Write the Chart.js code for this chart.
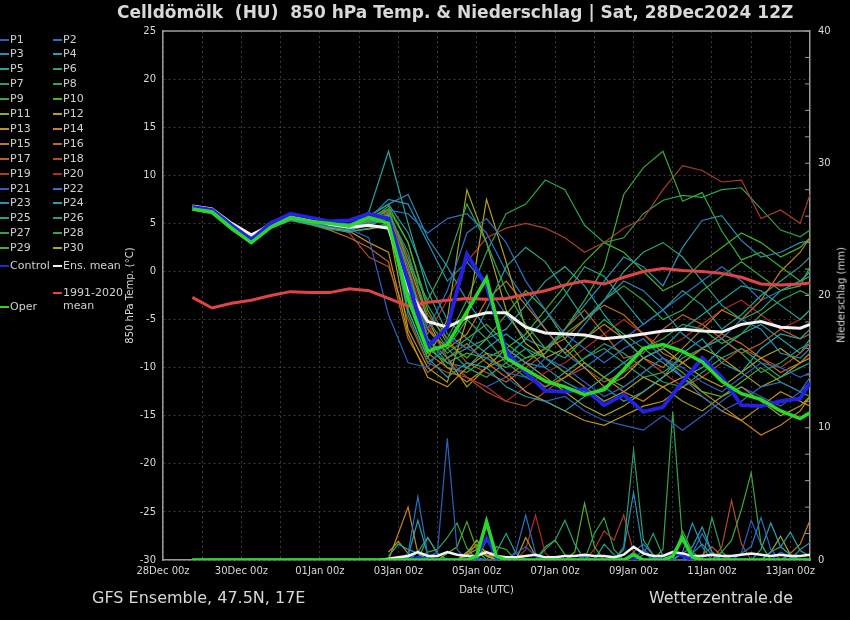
<!DOCTYPE html>
<html>
<head>
<meta charset="utf-8">
<script src="https://cdn.jsdelivr.net/npm/chart.js@4.4.1/dist/chart.umd.min.js"></script>
<style>
body{margin:0;background:#000;}
#wrap{position:relative;width:850px;height:620px;background:#000;overflow:hidden;font-family:"DejaVu Sans",sans-serif;color:#d8d8d8;}
#chart{position:absolute;left:0;top:0;}
#title{position:absolute;left:117px;top:2px;font-size:17px;font-weight:bold;white-space:pre;}
#legend{position:absolute;left:0;top:0;}
.key{position:absolute;font-size:11px;line-height:13px;white-space:pre;display:flex;align-items:flex-start;color:#d0d0d0;}
.mark{display:inline-block;width:9px;height:2px;margin-top:6px;margin-right:1px;}
#rtitle{position:absolute;left:841px;top:295px;font-size:10px;white-space:pre;transform:translate(-50%,-50%) rotate(-90deg);}
.foot{position:absolute;top:588px;font-size:16px;}
</style>
</head>
<body>
<div id="wrap">
  <canvas id="chart" width="850" height="620"></canvas>
  <div id="title">Celldömölk  (HU)  850 hPa Temp. &amp; Niederschlag | Sat, 28Dec2024 12Z</div>
  <div id="legend"></div>
  <div id="rtitle">Niederschlag (mm)</div>
  <div class="foot" style="left:92px">GFS Ensemble, 47.5N, 17E</div>
  <div class="foot" style="right:57px">Wetterzentrale.de</div>
</div>
<script>
// hours after 28Dec 00z
const tHours = [18,30,42,54,66,78,90,102,114,126,138,150,162,174,186,198,210,222,234,246,258,270,282,294,306,318,330,342,354,366,378,390,396];
const rainHours = [138,144,150,156,162,168,174,180,186,192,198,204,210,216,222,228,234,240,246,252,258,264,270,276,282,288,294,300,306,312,318,324,330,336,342,348,354,360,366,372,378,384,390,396];
const rainHoursLong = [18,24,30,36,42,48,54,60,66,72,78,84,90,96,102,108,114,120,126,132].concat(rainHours);

const xTickHours = [0,24,48,72,96,120,144,168,192,216,240,264,288,312,336,360,384];
const xTickLabels = ["28Dec 00z","30Dec 00z","01Jan 00z","03Jan 00z","05Jan 00z","07Jan 00z","09Jan 00z","11Jan 00z","13Jan 00z"];
const rainTicks = [0,2,4,6,8,10,12,14,16,18,20,22,24,26,28,30,32,34,36,38,40];

// 850 hPa temperature, members
const p1  = [6.5,6.2,4.6,3.3,4.8,5.6,5.2,4.7,4.4,3.5,-4.5, -9.5,-10,-7,-8,-9,-10.5,-11,-9,-10,-11.5, -13,-12,-10.5,-9,-10,-11.5,-12.5,-11,-9.5,-10, -11,-10.5];
const p2  = [6.6,6.3,4.8,3.5,5.0,5.7,5.4,4.9,4.7,5.0,5.5, -1,-6,-2,4,5.5,3,-1,-4,-6.5,-8, -9.5,-8,-7,-9,-11,-13,-14.5,-13.5,-12,-11.5, -12.5,-11];
const p3  = [6.7,6.4,5.0,3.7,5.2,5.9,5.6,5.1,4.9,5.8,7.0, 8,3.5,0.5,-3,-6,-8,-9.5,-10,-8,-5.5, -3,-1,-2,-4,-6.5,-8,-7,-5,-6,-8.5, -9,-8];
const p4  = [6.5,6.1,4.4,2.9,4.5,5.3,4.9,4.4,4.1,4.5,5.0, -4,-9,-11,-9.5,-10,-12,-13,-13.5,-14.5,-13, -12,-13.5,-12.5,-11,-8.5,-7,-9.5,-10.5,-8,-6.5, -7,-6];
const p5  = [6.6,6.2,4.6,3.3,4.8,5.6,5.4,4.8,4.6,6.2,12.5, 5,-2,-6.5,-8,-7,-6,-3.5,-1,0.5,-1.5, -4.5,-7,-9,-8,-6,-4.5,-3,-1.5,-2,-3.5, -5,-4];
const p6  = [6.4,6.0,4.3,3.0,4.6,5.4,5.0,4.6,4.3,4.8,5.5, 0.5,-7,-9,-8,-4,0.5,2.5,1,-2,-5, -3,0,2,3,1.5,-1,-3.5,-5,-4,-2, -1,0];
const p7  = [6.7,6.4,4.9,3.6,5.1,5.8,5.5,5.0,4.7,5.3,6.0, 2,-5,-8,-10,-11,-9.5,-8,-9,-10.5,-9, -7.5,-8.5,-10,-11.5,-12,-10.5,-9,-8,-9.5,-11, -10,-9.5];
const p8  = [6.5,6.1,4.5,3.2,4.7,5.5,5.1,4.7,4.4,5.0,6.5, 1,-3,1,7,3,-2,-5.5,-8,-9,-7, -5,-6.5,-8,-7,-5.5,-6,-7.5,-6.5,-4.5,-3, -2,-2.5];
const p9  = [6.6,6.2,4.7,3.4,4.9,5.7,5.3,4.8,4.5,5.0,5.5, -2,-8,-9.5,-8.5,-9,-10,-9,-8.5,-6,-3, 0.5,8,10.8,12.5,7.3,8.2,4.2,1.2,2,0.5, -1,-0.5];
const p10 = [6.5,6.1,4.5,3.1,4.7,5.5,5.2,4.7,4.5,5.2,6.8, 3,-4,-7.5,-9,-7,-4.5,-2,-4,-7,-9.5, -11,-12,-10.5,-9,-10.5,-12.5,-13,-11.5,-10,-11.5, -12.5,-13];
const p11 = [6.6,6.2,4.6,3.2,4.8,5.6,5.3,4.8,4.5,5.0,5.8, -4,-9,-5,8.5,3,-4,-7.5,-9,-10.5,-12, -13.5,-12.5,-11,-12,-13.5,-14.5,-13,-12,-13.5,-15, -14,-13];
const p12 = [6.5,6.1,4.4,3.0,4.6,5.4,5.0,4.5,4.2,4.4,4.8, -6,-10,-11.5,-5,7.5,1,-6,-9,-8,-10, -12,-11,-9,-8,-9.5,-11,-12,-10.5,-9,-8, -9.5,-9];
const p13 = [6.7,6.3,4.8,3.5,5.0,5.8,5.5,4.9,4.2,3.0,2.0, -6.5,-11,-12,-10,-8.5,-10.5,-12.5,-13.5,-14.5,-15.5, -16,-15,-14,-13.5,-12,-13,-14.5,-15.5,-14,-12.5, -13.5,-14];
const p14 = [6.5,6.1,4.5,3.1,4.7,5.5,5.1,4.6,4.3,4.8,5.5, -2.5,-8.5,-10,-11.5,-10,-9,-10.5,-12,-11,-9.5, -11,-12.5,-13.5,-12,-11,-12.5,-14,-15.5,-17,-16, -14.5,-13];
const p15 = [6.6,6.2,4.6,3.3,4.9,5.6,5.2,4.8,4.6,5.3,6.0, 0,-6,-8,-6.5,-3,-1,-3.5,-6,-8.5,-7, -5.5,-7,-9,-10,-8,-6,-4,-5,-3,0, 2,3.5];
const p16 = [6.4,6.0,4.3,2.9,4.5,5.3,4.9,4.3,3.5,2.5,1.0, -7,-10.5,-9,-7.5,-9.5,-11,-9.5,-8,-7,-5, -3.5,-4.5,-6.5,-8.5,-9.5,-8,-6.5,-7.5,-9,-10.5, -9.5,-8.5];
const p17 = [6.7,6.4,4.9,3.6,5.1,5.9,5.6,5.1,4.9,5.5,6.2, 1.5,-4.5,-7,-9.5,-10.5,-11.5,-10,-8.5,-6,-4, -6.5,-9,-8.5,-6,-4.5,-5.5,-7,-8.5,-7.5,-6, -7,-6.5];
const p18 = [6.6,6.2,4.6,3.2,4.8,5.6,5.3,4.8,4.0,1.5,0.5, -5,-9.5,-10.5,-11,-12.5,-13.5,-14,-12.5,-11,-10, -11.5,-10.5,-9,-10.5,-12,-11,-9.5,-8,-9,-10, -8.5,-7.5];
const p19 = [6.5,6.1,4.5,3.1,4.7,5.5,5.1,4.7,4.5,5.1,5.8, -1,-6.5,-3,1,3.5,4.5,5,4.5,3.5,2, 3,4.5,5.5,8.5,11,10.5,9.3,9.5,5.5,6.4, 5,8];
const p20 = [6.6,6.3,4.7,3.4,4.9,5.7,5.4,4.9,4.7,5.4,6.3, 0.5,-5.5,-9,-11,-12,-13.5,-12,-10.5,-9.5,-8, -6.5,-5,-6.5,-8,-7,-5.5,-4,-3,-4.5,-6, -5,-4];
const p21 = [6.5,6.1,4.5,3.2,4.7,5.5,5.2,4.7,4.4,4.9,5.5, -3,-8,-9.5,-11,-12,-11,-12.5,-13.5,-13,-14.5, -15.5,-16,-16.5,-15,-16.5,-15,-13.5,-12,-13,-14, -12.5,-11.5];
const p22 = [6.7,6.3,4.8,3.5,5.0,5.8,5.4,4.9,4.6,5.3,6.4, 6,4,5.5,6,4,0,-3,-6,-8.5,-10, -8.5,-7,-5.5,-4,-2.5,-1,0.5,-1,-3,-2, -1,0];
const p23 = [6.6,6.2,4.6,3.3,4.9,5.6,5.3,4.8,4.6,5.5,7.5, 7,3,-1,1,-1.5,-4.5,-7,-8,-6,-3.5, -1,1.5,0.5,-1.5,2.5,5.3,5.8,3.2,1.5,2, 3,3.2];
const p24 = [6.5,6.1,4.4,3.0,4.6,5.4,5.0,4.6,4.4,5.0,6.0, -1.5,-7,-9.5,-10,-8,-6.5,-8,-10,-11.5,-12.5, -11,-9.5,-8,-9.5,-11,-10,-8,-6.5,-5.5,-7, -8.5,-7];
const p25 = [6.6,6.3,4.8,3.5,5.0,5.8,5.5,5.0,4.8,5.7,7.0, 4,-1,-5,-7,-8.5,-9,-7,-5,-2.5,0.5, -0.5,-3,-5.5,-4,-2,-3.5,-6,-4.5,-2.5,-1, 0.5,1.5];
const p26 = [6.5,6.1,4.5,3.2,4.7,5.5,5.1,4.6,4.4,5.0,5.5, -4.5,-9.5,-8,-5,-7,-9.5,-11,-12,-10.5,-9, -8,-9.5,-11,-10.5,-9,-8,-7,-8.5,-10.5,-9.5, -8,-7.5];
const p27 = [6.7,6.4,4.9,3.6,5.1,5.9,5.6,5.1,4.9,5.6,6.5, 3,-3.5,-7,-3,2,6,7,9.5,8.5,4.8, 3,3.5,6,7.4,7.9,7.7,8.5,8.7,6.5,4.3, 3.6,4.3];
const p28 = [6.6,6.2,4.6,3.3,4.8,5.6,5.2,4.7,4.5,5.1,5.9, -0.5,-6,-8.5,-7,-5.5,-7.5,-9,-8,-6.5,-5, -3,-1.5,-3,-5,-4,-2,-0.5,1,-0.5,-2, -1.5,0.5];
const p29 = [6.5,6.1,4.4,3.0,4.6,5.4,5.0,4.5,4.3,4.9,5.6, -2,-7.5,-10,-10.5,-9,-8,-6.5,-4,-1.5,1, 3,2,0,-2,-1,1,2.5,4,3,1.5, 2.5,3.5];
const p30 = [6.6,6.2,4.7,3.4,4.9,5.7,5.4,4.9,4.6,5.2,6.0, 1,-5,-9,-12,-10,-8,-9.5,-11,-12.5,-14, -15,-14,-12.5,-11,-9.5,-8,-9,-10.5,-12,-11, -9.5,-8.5];

const control  = [6.7,6.4,4.8,3.3,5.0,6.0,5.6,5.2,5.3,6.0,5.5, -1,-7.8,-5.8,1.8,-1.5,-8.3,-10.5,-12.4,-12.5,-12.2, -13.9,-12.8,-14.6,-14.1,-11.5,-9,-11,-13.9,-14,-13.5, -13.2,-11.6];
const oper     = [6.5,6.2,4.5,3.0,4.6,5.6,5.2,5.0,4.7,5.6,5.0, -2.8,-8.3,-7.6,-4.2,-0.7,-9,-10.2,-11.4,-12,-12.8, -12.3,-10.2,-8,-7.6,-8.3,-9.4,-11.4,-12.7,-13.3,-14.5, -15.3,-14.7];
const ensMean  = [6.8,6.5,5.0,3.8,4.8,5.6,5.5,4.9,4.6,4.8,4.5, -1.8,-5.2,-5.8,-4.8,-4.3,-4.3,-5.8,-6.4,-6.5,-6.6, -7,-6.8,-6.5,-6.2,-6,-6.2,-6.3,-5.5,-5.2,-5.8, -5.9,-5.5];
const climMean = [-2.7,-3.8,-3.3,-3.0,-2.5,-2.1,-2.2,-2.2,-1.8,-2.0,-2.8, -3.6,-3.2,-3,-2.8,-2.9,-2.8,-2.4,-2,-1.4,-1, -1.3,-0.6,0,0.3,0.1,0,-0.2,-0.6,-1.3,-1.4, -1.3,-1.2];

// precipitation (mm / 6h), members from 03Jan 18z
const rr1  = [0,0,0,0,0.2,0.6,9.2,0.8,0,0,0, 0,0,0.5,1.0,0.3,0,0,0,0,0,0, 0,0,0,0,0.8,0.2,0,0,0,0,0, 0,0,0,0,0,0,0,0.6,0.2,0,0];
const rr2  = [0,0,0.5,4.8,0.4,0,0,0,0,0,0, 0,0,0.6,3.4,0.5,0,0,0,0,0,0, 0,0,0,0.4,0,0,0,0,0,0,0, 0,0,0,0.5,1.0,3.2,0.8,0,0,0,0];
const rr3  = [0,0,0,0.6,0.3,0,0,0,0,0.2,0, 0,0,0,0,0,0,0,0,0,0.3,0, 0,0,0.8,5.1,0.6,0,0,0,0,0.5,1.2, 0.4,0,0,0,0,0,0,0,0.4,0,0];
const rr4  = [0,0,0.3,3.0,0.4,0,0,0,0,0,0, 0,0,0,0,0,0,0,0,0,0,0, 0,0,0,0,0,0,0,0,0.5,1.0,2.5, 0.6,0,0,0,0,0.8,2.8,1.0,0.4,0,0];
const rr5  = [0.3,1.2,0.8,0.5,0,0,0,0,0,0,0, 0,0,0,0,0,0,0,0,0,0,0, 0,0,0,0,0,0,0,0,0,0,0, 0,0,0,0,0,0,0.6,1.0,2.1,0.7,0.3];
const rr6  = [0,0,0,0,0,0,0,0,0,0,0, 0,0,0,0,0,0.8,1.5,3.0,1.2,0,0, 0,0,0,0,0,0,0,0,0,0,0, 0,0,0,0,0,0,0,0,0,0,0];
const rr7  = [0,0,0,0,0,0,0,0,0,0,0, 0,0,0,0,0,0,0,0,0,0,0, 0,0,1.0,8.3,1.5,0.4,0,0,0,0,0, 0,0,0,0,0,0,0,0,0,0,0];
const rr8  = [0,0,0,0,0,0,0,0,0,0,0, 0,0,0,0,0,0,0,0,0,0,0, 0,0,0,0,0,0,0.8,11.2,1.4,0.3,0, 0,0,0,0,0,0,0,0,0,0,0];
const rr9  = [0,0,0,0,0,0,0,0,0,0,0, 0,0,0,0,0,0,0,0,0,0,0, 0,0,0,0,0,0,0,0,0,0,0, 0,0.6,1.5,3.8,6.6,1.2,0,0,0,0,0];
const rr10 = [0,0,0,0,0,0,0.5,1.0,2.9,0.8,0, 0,0,0,0,0,0,0,0,0.6,4.3,1.0, 0,0,0,0,0,0,0,0,0,0,0, 0,0,0,0,0,0,0,0,0,0,0];
const rr11 = [0,0,0,0,0,0,0,0,0.4,0.8,0.3, 0,0,0,0,0,0,0,0,0,0,0, 0,0,0,0,0,0,0,0,0,0,0, 0,0,0,0,0,0,0,0,0,0,0];
const rr12 = [0,0,0,0,0,0,0,0,0.5,1.5,0.4, 0,0,0,1.7,0.3,0,0,0,0,0,0, 0,0,0,0,0,0,0,0,0,0,0, 0,0,0,0,0,0,0.6,1.8,0.4,0,0];
const rr13 = [0.6,1.4,0.5,0,0,0,0,0,0,0,0, 0,0,0,0,0,0,0,0,0,0,0, 0,0,0,0,0,0,0,0,0,0,0, 0,0,0,0,0,0,0,0,0,0,0];
const rr14 = [0,2.0,4.0,0.5,0,0,0,0,0,0,0, 0,0,0,0,0,0,0,0,0,0,0, 0,0,0,0,0,0,0,0,0,0,0, 0,0,0,0,0,0,0,0,0,0,0];
const rr15 = [0,0,0,0,0,0,0,0,0,0,0, 0,0,0,0,0,0,0,0,0,0,0, 0,0,0,0,0,0,0,0,0,0,0, 0,0,0,0,0,0,0,0,0.5,1.2,3.0];
const rr16 = [0,0,0,0,0,0,0,0,0.3,1.2,0.6, 0,0,0,0,0,0,0,0,0,0,0, 0,0,0,0,0,0,0,0,0,0,0, 0,0,0,0,0,0,0,0,0,0,0];
const rr17 = [0,0,0,0,0,0,0,0,0,0,0, 0,0,0,0,0,0,0,0,0,0,0, 0,0,0,0,0,0,0,0,0,0,0.4, 1.0,0.3,0,0,0,0,0,0,0,0,0];
const rr18 = [0,0,0,0,0,0,0,0,0,0,0, 0,0,0,0,0,0,0,0,0,0,0, 0,0,0,0,0,0,0,0,0,0,0, 0,1.0,4.5,1.2,0,0,0,0,0,0,0];
const rr19 = [0,0,0,0,0,0,0,0,0,0,0, 0,0,0,0,0,0,0,0,0,0,0.8, 2.2,1.5,3.4,0.6,0,0,0,0,0,0,0, 0,0,0,0,0,0,0,0,0,0,0];
const rr20 = [0,0,0,0,0,0,0,0,0,0,0, 0,0,0,0.8,3.4,0.5,0,0,0,0,0, 0,0,0,0,0,0,0,0,0,0,0, 0,0,0,0,0,0,0,0,0,0,0];
const rr21 = [0,0,0,0,0,0,0,0,0,0,0, 0,0,0,0,0,0,0,0,0,0,0, 0,0,0,0,0,0,0,0,0,0,0, 0,0,0,0.5,3.0,1.2,0,0,0,0,0];
const rr22 = [0,0,0,0,0,0,0,0,0,0,0, 0,0,0,0,0,0,0,0,0,0,0, 0,0,0,0.6,1.2,0.4,0,0,0,0.5,2.0, 0.6,0,0,0,0,0,0,0,0,0,0];
const rr23 = [0,0,0,0,0,0,0,0,0,0,0, 0,0,0,0,0,0,0,0,0,0,0, 0,0,0,0,0,0,0,0,0.6,2.8,1.0, 0,0,0,0,0,0,0,0,0,0.8,1.3];
const rr24 = [0,0,0.2,0.6,1.7,0.5,0,0,0,0,0, 0,0,0,0,0,0,0,0,0,0,0, 0,0,0,0,0,0,0,0,0,0,0, 0,0,0,0,0,0,0,0,0,0,0];
const rr25 = [0,0,0,0,0,0,0,0,0,0,1.5, 0.6,2.0,0.5,0,0,0,0,0,0,0,0, 1.2,0.4,0,0,0,0,0,0,0,0,0, 0,0,0,0,0,0,0,0,0,0,0];
const rr26 = [0,0,0,0,0,0,0,0,0,0,0, 0,0,0,0,0,0,0,0,0,0,0, 0,0,0,0,0.4,2.0,0.3,0,0,0,0, 3.2,0.6,0,0,0,0,0,0,0,0,0];
const rr27 = [0,0,0,0,0.6,0.8,1.7,2.8,0.9,0,0, 0,0,0,0,0,0,0,0,0,0,2.0, 3.2,0.8,0,0,0,0,0,0,0,0,0, 0,0,0,0,0,0,0,0,0,0,0];
const rr28 = [0,0,0,0,0,0,0,0,0,0,0, 0,0,0,0,0,1.0,1.5,0.4,0,0,0, 0,0,0,0,0,0,0,0,2.2,0.6,0, 0,0,0,0,0,0,0,0,0,0,0];
const rr29 = [0,0,0,0,1.7,0.5,0,0,0,0,0, 1.0,0.8,0,0,0,0,0,0,0,0,0, 0,0,0,0,0,0,0,0,0,0,0, 0,0,0,0,0,0,0,0,0,0,0];
const rr30 = [0,0,0,0,0,0,0,0,0.6,1.1,0.3, 0,0,0,0,0,0,0,0,0,0,0, 0,0,0,0,0,0,0,0,0,0,0, 0,0,0,0,0,0,0,0,0,0,0];

// precipitation from 28Dec 18z
const rrOper = [0,0,0,0,0,0,0,0,0,0,0,0,0,0,0,0,0,0,0,0, 0,0,0,0,0,0,0,0,0,0.3,2.9, 0.3,0,0,0,0,0,0,0,0,0,0, 0,0,0,0.4,0,0,0,0.3,1.7,0.2,0, 0,0,0,0,0,0,0,0,0,0,0];
const rrCtrl = [0,0,0,0,0,0,0,0,0,0,0,0,0,0,0,0,0,0,0,0, 0,0,0,0.2,0,0,0,0,0,0.3,1.7, 0.2,0,0,0,0,0,0,0,0,0,0, 0,0,0,0,0,0,0.3,0.6,0.3,0,0, 0,0,0,0,0,0,0,0,0,0,0];
const rrMean = [0,0,0,0,0,0,0,0,0,0,0,0,0,0,0,0,0,0,0,0, 0.1,0.2,0.3,0.6,0.3,0.3,0.6,0.4,0.3,0.3,0.6, 0.3,0.2,0.2,0.3,0.4,0.2,0.2,0.3,0.3,0.4,0.3, 0.3,0.2,0.4,1.0,0.5,0.3,0.3,0.6,0.5,0.3,0.3, 0.4,0.3,0.3,0.4,0.5,0.4,0.3,0.4,0.3,0.3,0.4];

const memberColors = ["#2c5fbf","#2d6fc4","#2b8ab8","#27a0ad","#25a39a","#27a084","#2b9e6c","#31a453","#3aa93c","#56ad2a",
                      "#9ea523","#b3a020","#c2931d","#c8851d","#c27a22","#bd6b22","#b95e24","#b24c27","#a93d2a","#b02a2a",
                      "#2a5ec0","#2b72c6","#2a8eb5","#27a1ab","#26a190","#2a9e66","#2fa24e","#36a83d","#48ac2b","#a9a822"];
const members = [p1,p2,p3,p4,p5,p6,p7,p8,p9,p10,p11,p12,p13,p14,p15,p16,p17,p18,p19,p20,p21,p22,p23,p24,p25,p26,p27,p28,p29,p30];
const rains = [rr1,rr2,rr3,rr4,rr5,rr6,rr7,rr8,rr9,rr10,rr11,rr12,rr13,rr14,rr15,rr16,rr17,rr18,rr19,rr20,rr21,rr22,rr23,rr24,rr25,rr26,rr27,rr28,rr29,rr30];

const ctrlColor = "#2222e0", operColor = "#2ad82a", meanColor = "#f2f2f2", climColor = "#e04444";

const pts = (hours, vals) => vals.map((v,i)=>({x:hours[i], y:v}));

const datasets = [];
members.forEach((m,i)=>{
    datasets.push({label:"P"+(i+1), data:pts(tHours,m), borderColor:memberColors[i], borderWidth:1.2, yAxisID:"y", order:10});
    datasets.push({label:"", data:pts(rainHours,rains[i]), borderColor:memberColors[i], borderWidth:1.2, yAxisID:"y1", order:11});
});
datasets.push({label:"Oper", data:pts(tHours,oper), borderColor:operColor, borderWidth:3.5, yAxisID:"y", order:1});
datasets.push({label:"Control", data:pts(tHours,control), borderColor:ctrlColor, borderWidth:4, yAxisID:"y", order:2});
datasets.push({label:"Ens. mean", data:pts(tHours,ensMean), borderColor:meanColor, borderWidth:3, yAxisID:"y", order:3});
datasets.push({label:"1991-2020 mean", data:pts(tHours,climMean), borderColor:climColor, borderWidth:3, yAxisID:"y", order:4});
datasets.push({label:"", data:pts(rainHoursLong,rrOper), borderColor:operColor, borderWidth:3.5, yAxisID:"y1", order:5});
datasets.push({label:"", data:pts(rainHoursLong,rrMean), borderColor:meanColor, borderWidth:2.5, yAxisID:"y1", order:6});
datasets.push({label:"", data:pts(rainHoursLong,rrCtrl), borderColor:ctrlColor, borderWidth:3, yAxisID:"y1", order:7});

// top border + small inner ticks on the precipitation axis
const frame = {
    id:"frame",
    beforeDatasetsDraw(chart){
        const {ctx, chartArea:a, scales} = chart;
        ctx.save();
        ctx.strokeStyle="#9a9a9a"; ctx.lineWidth=1.5;
        ctx.beginPath(); ctx.moveTo(a.left,a.top); ctx.lineTo(a.right,a.top); ctx.stroke();
        ctx.lineWidth=1;
        rainTicks.forEach(v=>{
            const y = scales.y1.getPixelForValue(v);
            ctx.beginPath(); ctx.moveTo(a.right-5,y); ctx.lineTo(a.right,y); ctx.stroke();
        });
        ctx.restore();
    }
};

const tickFont = {family:"DejaVu Sans", size:10};
const gridColor = "#3a3a3a";

new Chart(document.getElementById("chart"),{
    type:"line",
    data:{datasets:datasets},
    options:{
        responsive:false,
        animation:false,
        layout:{padding:{left:110, right:0, top:31, bottom:0}},
        elements:{point:{radius:0}, line:{tension:0}},
        plugins:{legend:{display:false}, tooltip:{enabled:false}, title:{display:false}},
        scales:{
            x:{
                type:"linear", min:0, max:396,
                afterBuildTicks:s=>{ s.ticks = xTickHours.map(v=>({value:v})); },
                afterFit:s=>{ s.height = 60; },
                ticks:{autoSkip:false, maxRotation:0, padding:5, color:"#d8d8d8", font:tickFont,
                       callback:v=> v%48===0 ? xTickLabels[v/48] : ""},
                grid:{color:gridColor, lineWidth:1, drawTicks:false},
                border:{display:true, color:"#9a9a9a", width:1.5, dash:[2,3]},
                title:{display:true, text:"Date (UTC)", color:"#d8d8d8", font:tickFont, padding:{top:0,bottom:24}}
            },
            y:{
                position:"left", min:-30, max:25,
                afterFit:s=>{ s.width = 53; },
                ticks:{stepSize:5, padding:7, color:"#d8d8d8", font:tickFont},
                grid:{color:gridColor, lineWidth:1, drawTicks:false},
                border:{display:true, color:"#9a9a9a", width:1.5, dash:[2,3]},
                title:{display:true, text:"850 hPa Temp. (°C)", color:"#d8d8d8", font:tickFont, padding:{top:14,bottom:0}}
            },
            y1:{
                position:"right", min:0, max:40,
                afterFit:s=>{ s.width = 40; },
                ticks:{stepSize:10, padding:8, color:"#d8d8d8", font:tickFont},
                grid:{display:false, drawTicks:false, drawOnChartArea:false},
                border:{display:true, color:"#9a9a9a", width:1.5}
            }
        }
    },
    plugins:[frame]
});

// legend, two columns like the original
const legendBox = document.getElementById("legend");
function addKey(text, color, x, y){
    const d = document.createElement("div");
    d.className = "key";
    d.style.left = x+"px";
    d.style.top = (y-6.5)+"px";
    d.innerHTML = `<span class="mark" style="background:${color}"></span><span>${text}</span>`;
    legendBox.appendChild(d);
}
members.forEach((m,i)=>{
    const row = Math.floor(i/2), col = i%2;
    addKey("P"+(i+1), memberColors[i], col ? 53 : 0, 39 + row*14.9);
});
addKey("Control", ctrlColor, 0, 265);
addKey("Ens. mean", meanColor, 53, 265);
addKey("1991-2020<br>mean", climColor, 53, 292);
addKey("Oper", operColor, 0, 306);
</script>
</body>
</html>
